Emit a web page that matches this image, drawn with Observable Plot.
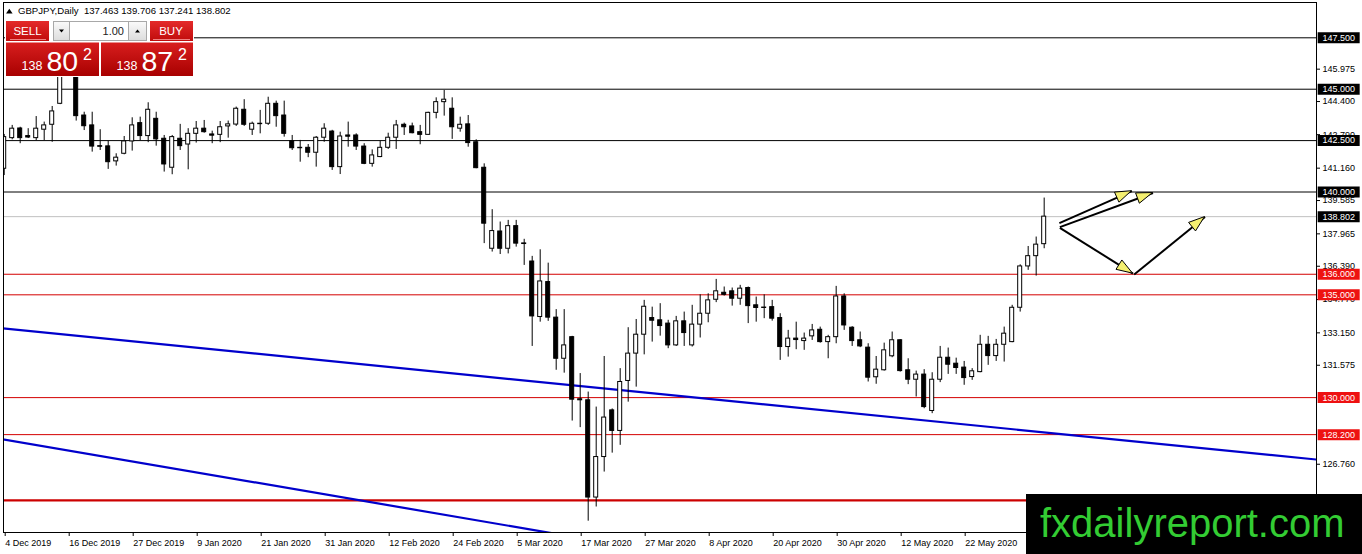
<!DOCTYPE html>
<html><head><meta charset="utf-8">
<script src="https://cdn.jsdelivr.net/npm/d3@7"></script>
<script src="https://cdn.jsdelivr.net/npm/@observablehq/plot@0.6"></script>
<style>
html,body{margin:0;padding:0;background:#fff;}
#chart{width:1362px;height:554px;overflow:hidden;}
</style></head><body><div id="chart"></div>
<script>
// ---- data (GBPJPY daily, bar index 0 = 4 Dec 2019) ----
const opens = [141.13,142.62,143.09,142.72,142.62,143.03,143.27,144.29,146.10,146.40,
143.72,143.24,142.23,142.22,141.49,141.86,142.46,143.35,142.72,143.56,
142.59,141.18,142.59,142.31,142.83,143.08,142.80,142.78,143.19,143.28,
144.00,143.03,143.30,143.32,144.29,143.72,142.47,142.15,142.15,141.91,
142.64,142.94,141.21,142.75,142.75,142.21,141.37,141.70,142.15,142.64,
143.27,143.19,142.91,142.78,143.85,144.37,144.05,143.08,143.29,142.42,
141.18,137.24,138.08,137.24,138.34,137.50,136.62,133.92,135.62,133.89,
131.89,132.94,129.92,129.87,125.14,127.11,129.38,128.38,130.81,132.14,
133.06,133.87,133.76,133.60,132.54,133.71,132.54,133.55,134.08,134.76,
135.10,135.17,134.81,135.33,134.49,134.38,134.40,133.87,132.46,132.87,
132.75,132.98,133.30,132.70,132.94,134.92,133.40,132.79,132.43,130.99,
131.33,132.01,132.79,131.33,130.87,131.12,129.35,130.87,131.94,131.65,
131.46,131.00,131.24,132.57,132.02,132.57,132.70,134.37,136.38,136.88,137.463];
const highs = [142.80,143.24,143.15,143.08,143.67,143.40,144.16,147.95,147.20,146.60,
143.88,143.88,143.03,142.47,141.86,142.70,143.61,143.64,144.34,143.88,
142.75,142.75,143.29,143.08,143.43,143.48,142.96,143.43,143.45,144.13,
144.49,143.40,143.97,144.61,144.42,144.42,142.75,142.51,142.31,142.70,
143.32,143.00,142.91,143.40,142.83,142.35,142.05,142.47,142.86,143.48,
143.35,143.35,143.24,143.88,144.58,144.94,144.58,143.64,143.72,142.54,
141.37,139.14,138.54,138.62,138.62,137.70,136.87,137.19,136.54,134.28,
134.28,132.98,131.17,130.27,129.54,132.00,129.45,131.41,133.40,133.80,
134.73,134.40,134.57,133.76,133.95,134.16,134.49,135.00,135.05,135.75,
135.38,135.33,135.46,135.38,134.89,135.00,134.73,134.08,133.27,133.67,
133.14,133.56,133.43,133.03,135.41,135.05,133.45,133.19,132.62,132.00,
132.65,133.19,132.82,131.89,131.29,131.36,131.21,132.49,132.41,131.92,
131.76,131.41,133.03,132.98,132.83,133.43,134.49,136.46,137.35,137.81,139.706];
const lows = [140.80,142.54,142.35,142.60,142.50,142.50,142.42,144.25,145.80,143.45,
142.99,141.94,142.02,141.10,141.26,141.81,141.99,142.50,142.40,142.23,
140.97,140.84,142.02,141.08,142.38,142.86,142.35,142.40,142.62,143.19,
143.19,142.75,142.83,143.24,143.15,142.67,142.02,141.45,141.67,141.21,
142.42,141.05,140.85,142.18,142.02,141.33,141.21,141.67,142.07,142.07,
142.75,142.83,142.30,142.76,143.56,143.69,142.56,142.91,142.18,141.13,
137.49,137.08,136.96,136.99,137.32,136.43,132.49,133.67,133.71,131.33,
131.19,128.86,128.54,123.99,124.68,126.38,127.30,127.68,129.78,130.51,
132.08,132.70,132.99,132.38,132.49,132.49,132.46,132.90,133.64,134.62,
134.94,134.45,134.49,133.60,133.67,133.84,133.72,131.81,131.97,132.33,
132.30,132.78,132.65,131.89,132.62,133.27,132.49,132.43,130.76,130.65,
131.29,131.94,131.24,130.63,130.03,129.46,129.22,130.73,131.13,131.13,
130.60,130.84,131.21,131.57,131.76,131.73,132.67,134.16,136.19,135.91,137.241];
const closes = [142.67,143.08,142.62,142.65,143.08,143.24,143.92,146.00,146.40,143.69,
143.20,142.21,142.20,141.45,141.67,142.46,143.24,142.72,144.00,142.56,
141.34,142.67,142.23,142.83,143.08,142.91,142.74,143.15,143.29,144.05,
143.27,143.32,143.32,144.29,143.69,142.83,142.13,142.13,141.91,142.64,
143.08,141.21,142.70,142.69,142.21,141.37,141.78,142.15,142.64,143.24,
143.15,142.86,142.78,143.85,144.37,144.49,143.15,143.27,142.38,141.16,
138.46,138.10,137.24,138.34,137.49,137.47,133.95,135.65,133.89,131.89,
132.54,129.90,129.87,125.14,127.11,129.03,128.38,130.76,132.14,133.06,
134.42,133.74,133.48,132.54,133.71,133.14,133.55,134.08,134.73,135.17,
135.00,134.81,135.30,134.45,134.36,134.36,133.84,132.46,132.87,132.80,
132.87,133.27,132.70,132.94,134.92,133.51,132.75,132.49,130.97,131.36,
132.30,132.79,131.29,130.87,131.12,129.54,130.87,131.94,131.60,131.44,
130.95,131.28,132.57,132.02,132.57,133.11,134.37,136.38,136.88,137.44,138.802];

const dateTickIndex = [0,8,16,24,32,40,48,56,64,72,80,88,96,104,112,120];
const dateTickLabels = ["4 Dec 2019","16 Dec 2019","27 Dec 2019","9 Jan 2020","21 Jan 2020","31 Jan 2020",
"12 Feb 2020","24 Feb 2020","5 Mar 2020","17 Mar 2020","27 Mar 2020","8 Apr 2020","20 Apr 2020",
"30 Apr 2020","12 May 2020","22 May 2020"];
const priceTicks = [145.975,144.400,142.790,141.160,139.585,137.965,136.390,134.770,133.150,131.575,126.760];

const blackLevels = [147.5,145.0,142.5,140.0];
const currentPrice = [138.802];
const redLevels = [136.0,135.0,130.0,128.2];
const strongRedLevel = [125.0];

// trend lines (bar index, price)
const trendX1 = [-1,-1], trendY1 = [133.40,128.03];
const trendX2 = [165,80], trendY2 = [126.95,122.64];

// arrows (bar index, price)
const arrowX1 = [131.9,131.96,131.96,141.25], arrowY1 = [138.49,138.29,138.26,135.99];
const arrowX2 = [140.96,143.6,141.1,150.1], arrowY2 = [140.04,139.95,136.03,138.78];

const headerText = "GBPJPY,Daily  137.463 139.706 137.241 138.802";

// ---- build ----
const idx = d3.range(opens.length);
const trends = trendX1.map((_, k) => ({x1: trendX1[k], y1: trendY1[k], x2: trendX2[k], y2: trendY2[k]}));
const arrows = arrowX1.map((_, k) => ({x1: arrowX1[k], y1: arrowY1[k], x2: arrowX2[k], y2: arrowY2[k]}));
const levelLabels = [
  ...blackLevels.map(v => ({v, c: "black", show: true})),
  ...currentPrice.map(v => ({v, c: "black", show: true})),
  ...redLevels.map(v => ({v, c: "#ee1111", show: true})),
  ...strongRedLevel.map(v => ({v, c: "#ee1111", show: false}))  // text hidden under watermark
];
const FONT = "'Liberation Sans', Arial, sans-serif";

const plot = Plot.plot({
  width: 1362, height: 554,
  marginLeft: 3, marginRight: 46, marginTop: 2, marginBottom: 22,
  style: {fontFamily: FONT, fontSize: "9px", background: "white", color: "black", overflow: "visible"},
  x: {type: "linear", domain: [-0.0875, 164.04]},
  y: {domain: [123.44, 149.217]},
  color: {type: "identity"},
  marks: [
    Plot.ruleY(blackLevels, {stroke: "black", strokeWidth: 1}),
    Plot.ruleY(currentPrice, {stroke: "#c0c0c0", strokeWidth: 1}),
    Plot.ruleY(redLevels, {stroke: "#d40000", strokeWidth: 1}),
    Plot.ruleY(strongRedLevel, {stroke: "#cc0000", strokeWidth: 2.2}),
    Plot.link(trends, {x1: "x1", y1: "y1", x2: "x2", y2: "y2", stroke: "#0000cc", strokeWidth: 2.2, clip: true}),
    Plot.ruleX(idx, {x: i => i, y1: i => lows[i], y2: i => highs[i], stroke: "black", strokeWidth: 1, clip: true}),
    Plot.rect(idx, {
      x1: i => i - 0.25, x2: i => i + 0.25,
      y1: i => Math.min(opens[i], closes[i]), y2: i => Math.max(opens[i], closes[i]),
      fill: i => closes[i] >= opens[i] ? "white" : "black",
      stroke: "black", strokeWidth: 1, clip: true
    }),
    Plot.link(arrows, {x1: "x1", y1: "y1", x2: "x2", y2: "y2", stroke: "black", strokeWidth: 2}),
    Plot.frame({stroke: "black"}),
    Plot.axisY({anchor: "right", ticks: priceTicks, tickFormat: d => d.toFixed(3), tickSize: 3, tickPadding: 3, fontSize: 9}),
    Plot.ruleY(levelLabels, {y: "v", x1: 164.25, x2: 169.5, stroke: "c", strokeWidth: 11}),
    Plot.text(levelLabels.filter(d => d.show), {y: "v", x: 164.04, dx: 6, text: d => d.v.toFixed(3), fill: "white", textAnchor: "start", fontSize: 9}),
    Plot.axisX({ticks: dateTickIndex, tickFormat: d => dateTickLabels[dateTickIndex.indexOf(d)], tickSize: 4, tickPadding: 3, textAnchor: "start", dx: 1, fontSize: 9})
  ]
});
document.getElementById("chart").appendChild(plot);

// ---- overlays drawn with the plot's own scales ----
const sx = plot.scale("x"), sy = plot.scale("y");
const svg = d3.select(plot);
const defs = svg.append("defs");
function grad(id, c1, c2) {
  const g = defs.append("linearGradient").attr("id", id).attr("x1", 0).attr("y1", 0).attr("x2", 0).attr("y2", 1);
  g.append("stop").attr("offset", "0%").attr("stop-color", c1);
  g.append("stop").attr("offset", "100%").attr("stop-color", c2);
}
grad("btnRed", "#e42a2a", "#c00c0c");
grad("boxRed", "#d81e1e", "#a80000");
grad("btnGray", "#fafafa", "#dcdcdc");

// arrowheads
const ah = svg.append("g");
arrows.forEach(a => {
  const fx = sx.apply(a.x1), fy = sy.apply(a.y1), tx = sx.apply(a.x2), ty = sy.apply(a.y2);
  const dx = tx - fx, dy = ty - fy, len = Math.hypot(dx, dy), ux = dx / len, uy = dy / len;
  const L = 16, Wd = 5.5, bx = tx - ux * L, by = ty - uy * L;
  ah.append("polygon")
    .attr("points", [[tx, ty], [bx - uy * Wd, by + ux * Wd], [bx + uy * Wd, by - ux * Wd]].map(p => p.join(",")).join(" "))
    .attr("fill", "#f4ef70").attr("stroke", "black").attr("stroke-width", 1).attr("stroke-linejoin", "round");
});

// header
const hd = svg.append("g").attr("font-family", FONT).attr("text-anchor", "start");
hd.append("polygon").attr("points", "6,13.5 12.6,13.5 9.3,8.8").attr("fill", "black");
hd.append("text").attr("x", 18).attr("y", 14).attr("font-size", 9.6).attr("fill", "black")
  .attr("text-anchor", "start").style("white-space", "pre").text(headerText);

// one-click trading panel
const p = svg.append("g").attr("font-family", FONT).attr("text-anchor", "start");
p.append("rect").attr("x", 5).attr("y", 20).attr("width", 189).attr("height", 57).attr("fill", "white");
p.append("rect").attr("x", 6).attr("y", 21).attr("width", 43).attr("height", 20).attr("fill", "url(#btnRed)");
p.append("line").attr("x1", 10).attr("x2", 46).attr("y1", 39.5).attr("y2", 39.5).attr("stroke", "#f08080").attr("stroke-width", 1);
p.append("text").attr("x", 27.5).attr("y", 35).attr("text-anchor", "middle").attr("font-size", 11.5).attr("fill", "white").text("SELL");
p.append("rect").attr("x", 150).attr("y", 21).attr("width", 43).attr("height", 20).attr("fill", "url(#btnRed)");
p.append("line").attr("x1", 153).attr("x2", 190).attr("y1", 39.5).attr("y2", 39.5).attr("stroke", "#f08080").attr("stroke-width", 1);
p.append("text").attr("x", 171).attr("y", 35).attr("text-anchor", "middle").attr("font-size", 11.5).attr("fill", "white").text("BUY");
p.append("rect").attr("x", 53.5).attr("y", 21.5).attr("width", 93).attr("height", 19).attr("fill", "white").attr("stroke", "#a8a8a8");
p.append("rect").attr("x", 53.5).attr("y", 21.5).attr("width", 16).attr("height", 19).attr("fill", "url(#btnGray)").attr("stroke", "#a8a8a8");
p.append("rect").attr("x", 128.5).attr("y", 21.5).attr("width", 18).attr("height", 19).attr("fill", "url(#btnGray)").attr("stroke", "#a8a8a8");
p.append("polygon").attr("points", "59,29.5 64,29.5 61.5,32.5").attr("fill", "black");
p.append("polygon").attr("points", "135,32.5 140,32.5 137.5,29.5").attr("fill", "black");
p.append("text").attr("x", 124).attr("y", 35).attr("text-anchor", "end").attr("font-size", 11).attr("fill", "#222").text("1.00");
p.append("rect").attr("x", 6).attr("y", 42.5).attr("width", 93).attr("height", 33.5).attr("fill", "url(#boxRed)");
p.append("rect").attr("x", 101).attr("y", 42.5).attr("width", 92).attr("height", 33.5).attr("fill", "url(#boxRed)");
function priceBox(x0, big) {
  p.append("text").attr("x", x0).attr("y", 70).attr("text-anchor", "start").attr("font-size", 12.5).attr("fill", "white").text("138");
  p.append("text").attr("x", x0 + 25).attr("y", 70.5).attr("text-anchor", "start").attr("font-size", 28.5).attr("fill", "white").text(big);
  p.append("text").attr("x", x0 + 61.5).attr("y", 60).attr("text-anchor", "start").attr("font-size", 16).attr("fill", "white").text("2");
}
priceBox(21.5, "80");
priceBox(116.5, "87");

// watermark
const wm = svg.append("g");
wm.append("rect").attr("x", 1026).attr("y", 494).attr("width", 336).attr("height", 60).attr("fill", "black");
wm.append("text").attr("x", 1040).attr("y", 537).attr("text-anchor", "start").attr("font-family", FONT).attr("font-size", 40)
  .attr("fill", "#33cc33").text("fxdailyreport.com");
</script>
</body></html>
